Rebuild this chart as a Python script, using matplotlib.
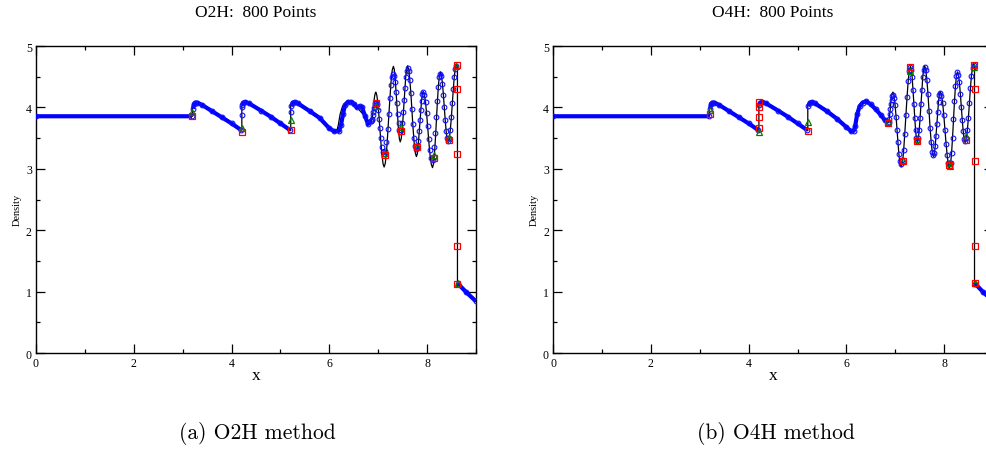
import numpy as np
import matplotlib
matplotlib.use("Agg")
import matplotlib.pyplot as plt
from matplotlib.ticker import MultipleLocator

plt.rcParams["font.family"] = "Liberation Serif"

nan = np.nan

# reference solution (black line), smooth part before the oscillations
ref_x_left = [0.0, 3.20, 3.20, 3.23, 3.26, 3.30, 3.40, 3.60, 3.80, 4.00, 4.21, 4.21, 4.24, 4.28, 4.35,
              4.60, 4.80, 5.00, 5.21, 5.21, 5.25, 5.29, 5.35, 5.60, 5.80, 6.00, 6.10, 6.15, 6.18, 6.22,
              6.27, 6.33, 6.40, 6.50, 6.60, 6.70, 6.78]
ref_rho_left = [3.857, 3.857, 4.02, 4.06, 4.08, 4.08, 4.04, 3.94, 3.84, 3.74, 3.63, 4.07, 4.08, 4.09, 4.07,
                3.95, 3.85, 3.74, 3.62, 4.06, 4.08, 4.09, 4.07, 3.94, 3.82, 3.68, 3.61, 3.62, 3.70, 3.89,
                4.02, 4.08, 4.10, 4.05, 3.97, 3.88, 3.80]
ref_x_right = [8.62, 8.62, 8.80, 9.00]
ref_rho_right = [4.70, 1.13, 0.99, 0.84]

# oscillatory region, shared x positions
x_osc = [6.850, 6.862, 6.875, 6.888, 6.900, 6.912, 6.925, 6.938, 6.950,
         6.971, 6.992, 7.014, 7.035, 7.056, 7.077, 7.099, 7.120,
         7.144, 7.168, 7.191, 7.215, 7.239, 7.263, 7.286, 7.310,
         7.328, 7.345, 7.362, 7.380, 7.398, 7.415, 7.432, 7.450,
         7.469, 7.488, 7.506, 7.525, 7.544, 7.562, 7.581, 7.600,
         7.622, 7.645, 7.668, 7.690, 7.712, 7.735, 7.758, 7.780,
         7.798, 7.815, 7.832, 7.850, 7.868, 7.885, 7.902, 7.920,
         7.944, 7.968, 7.991, 8.015, 8.039, 8.063, 8.086, 8.110,
         8.130, 8.150, 8.170, 8.190, 8.210, 8.230, 8.250, 8.270,
         8.290, 8.310, 8.330, 8.350, 8.370, 8.390, 8.410, 8.430,
         8.451, 8.472, 8.494, 8.515, 8.536, 8.557, 8.579, 8.600]
ref_osc = [3.75, 3.77, 3.82, 3.90, 4.00, 4.10, 4.18, 4.23, 4.25,
           4.20, 4.07, 3.87, 3.64, 3.41, 3.21, 3.08, 3.03,
           3.09, 3.27, 3.54, 3.85, 4.16, 4.43, 4.61, 4.67,
           4.62, 4.49, 4.29, 4.06, 3.82, 3.62, 3.49, 3.44,
           3.49, 3.62, 3.82, 4.06, 4.30, 4.50, 4.63, 4.68,
           4.62, 4.46, 4.22, 3.94, 3.66, 3.42, 3.26, 3.20,
           3.24, 3.36, 3.53, 3.73, 3.93, 4.11, 4.22, 4.26,
           4.21, 4.08, 3.88, 3.64, 3.40, 3.20, 3.07, 3.02,
           3.08, 3.25, 3.50, 3.80, 4.10, 4.35, 4.52, 4.58,
           4.54, 4.41, 4.23, 4.01, 3.79, 3.60, 3.47, 3.43,
           3.48, 3.62, 3.82, 4.07, 4.31, 4.52, 4.65, 4.70]
o2h_osc = [3.78, 3.79, 3.82, 3.87, 3.93, 3.99, 4.04, 4.07, 4.08,
           4.05, 3.96, 3.82, 3.66, 3.50, 3.36, 3.27, 3.24,
           3.29, 3.43, 3.65, 3.90, 4.15, 4.36, 4.50, 4.55,
           4.51, 4.41, 4.26, 4.08, 3.89, 3.74, 3.64, 3.60,
           3.64, 3.75, 3.92, 4.12, 4.32, 4.49, 4.60, 4.64,
           4.59, 4.45, 4.23, 3.98, 3.73, 3.51, 3.37, 3.32,
           3.36, 3.46, 3.61, 3.79, 3.96, 4.11, 4.22, 4.25,
           4.21, 4.09, 3.91, 3.70, 3.48, 3.30, 3.18, 3.14,
           3.19, 3.35, 3.58, 3.85, 4.11, 4.34, 4.50, 4.55,
           4.51, 4.39, 4.21, 4.01, 3.80, 3.62, 3.50, 3.46,
           3.51, 3.64, 3.84, 4.07, 4.30, 4.50, 4.63, 4.68]
o4h_osc = [3.75, 3.77, 3.82, 3.89, 3.98, 4.06, 4.13, 4.18, 4.20,
           4.16, 4.04, 3.85, 3.64, 3.43, 3.24, 3.12, 3.08,
           3.14, 3.31, 3.57, 3.87, 4.17, 4.43, 4.60, 4.66,
           4.61, 4.49, 4.29, 4.06, 3.83, 3.64, 3.51, 3.46,
           3.51, 3.64, 3.83, 4.06, 4.29, 4.49, 4.61, 4.66,
           4.61, 4.45, 4.22, 3.94, 3.67, 3.43, 3.28, 3.22,
           3.26, 3.37, 3.54, 3.73, 3.93, 4.09, 4.20, 4.24,
           4.19, 4.07, 3.87, 3.64, 3.41, 3.22, 3.09, 3.04,
           3.10, 3.26, 3.51, 3.81, 4.10, 4.35, 4.51, 4.57,
           4.53, 4.41, 4.22, 4.01, 3.80, 3.61, 3.49, 3.45,
           3.50, 3.63, 3.83, 4.07, 4.31, 4.51, 4.64, 4.69]

# numerical solution, smooth parts (dense points drawn as a band)
band_x_a = [0.0, 3.19, nan, 3.21, 3.23, 3.26, 3.30, 3.40, 3.60, 3.80, 4.00, 4.20, nan,
            4.22, 4.24, 4.28, 4.35, 4.60, 4.80, 5.00, 5.20, nan,
            5.22, 5.25, 5.29, 5.35, 5.60, 5.80, 6.00, 6.10, 6.20, 6.24, 6.28, 6.32, 6.38,
            6.45, 6.50, 6.56, 6.62, 6.67, 6.73, 6.79, 6.85, nan, 8.63, 8.80, 9.00]
band_a = [3.857, 3.857, nan, 3.98, 4.05, 4.08, 4.08, 4.04, 3.94, 3.84, 3.74, 3.63, nan,
          4.04, 4.08, 4.09, 4.07, 3.95, 3.85, 3.74, 3.63, nan,
          4.02, 4.08, 4.09, 4.07, 3.94, 3.83, 3.66, 3.61, 3.62, 3.72, 3.90, 4.04, 4.09,
          4.09, 4.06, 4.00, 4.02, 4.00, 3.86, 3.73, 3.78, nan, 1.13, 0.99, 0.84]
band_x_b = [0.0, 3.19, nan, 3.21, 3.23, 3.26, 3.30, 3.40, 3.60, 3.80, 4.00, 4.20, nan,
            4.22, 4.24, 4.28, 4.35, 4.60, 4.80, 5.00, 5.20, nan,
            5.22, 5.25, 5.29, 5.35, 5.60, 5.80, 6.00, 6.10, 6.15, 6.18, 6.22, 6.27, 6.33,
            6.40, 6.50, 6.60, 6.70, 6.78, 6.85, nan, 8.63, 8.80, 9.00]
band_b = [3.857, 3.857, nan, 3.98, 4.05, 4.08, 4.08, 4.04, 3.94, 3.84, 3.74, 3.63, nan,
          4.04, 4.08, 4.09, 4.07, 3.95, 3.85, 3.74, 3.63, nan,
          4.02, 4.08, 4.09, 4.07, 3.94, 3.82, 3.68, 3.61, 3.62, 3.70, 3.89, 4.02, 4.08,
          4.10, 4.05, 3.97, 3.88, 3.80, 3.75, nan, 1.13, 0.99, 0.84]

# isolated cells inside the jumps
jump_x_a = [4.21, 4.21, 5.21]
jump_a = [4.00, 3.88, 3.92]

# troubled cells (green triangles, red squares)
green_x_a = [3.20, 4.21, 5.21, 6.96, 7.14, 7.47, 7.80, 8.13, 8.45, 8.60, 8.63]
green_a = [3.92, 3.66, 3.80, 4.03, 3.26, 3.68, 3.38, 3.22, 3.51, 4.67, 1.14]
red_x_a = [3.20, 4.21, 5.21, 6.96, 7.14, 7.47, 7.80, 8.13, 8.45, 8.61, 8.62, 8.62, 8.62, 8.62]
red_a = [3.86, 3.60, 3.63, 4.08, 3.23, 3.62, 3.35, 3.18, 3.47, 4.70, 4.30, 3.25, 1.75, 1.13]
green_x_b = [3.21, 4.21, 5.21, 6.86, 7.15, 7.31, 7.45, 8.09, 8.12, 8.44, 8.60, 8.63]
green_b = [3.96, 3.60, 3.76, 3.77, 3.15, 4.60, 3.48, 3.10, 3.04, 3.53, 4.66, 1.14]
red_x_b = [3.21, 4.21, 4.21, 4.21, 4.21, 5.21, 6.86, 7.15, 7.30, 7.45, 8.10, 8.44, 8.61,
           8.63, 8.63, 8.63, 8.63]
red_b = [3.89, 4.09, 4.00, 3.84, 3.66, 3.62, 3.75, 3.12, 4.66, 3.46, 3.06, 3.47, 4.70,
         4.30, 3.13, 1.74, 1.14]

ref_x = ref_x_left + x_osc + ref_x_right
ref_rho = ref_rho_left + ref_osc + ref_rho_right

fig = plt.figure(figsize=(9.86, 4.52), dpi=100)
ax_a = fig.add_axes([0.0365, 0.2168, 0.4463, 0.679])
ax_b = fig.add_axes([0.5609, 0.2168, 0.4463, 0.679])


def draw(ax, bx, by, osc, jx, jy, gx, gy, rx, ry):
    circ = dict(ls="none", marker="o", ms=3.4, mfc="none", mec="#1010ff", mew=0.8, zorder=3)
    ax.plot(ref_x, ref_rho, color="black", lw=0.9, zorder=2)
    ax.plot(bx, by, color="#0000ff", lw=3.0, solid_capstyle="butt", zorder=3)
    ax.plot(bx, by, **circ)
    ax.plot(x_osc, osc, **circ)
    ax.plot(jx, jy, **circ)
    ax.plot(gx, gy, ls="none", marker="^", ms=4.5, mfc="none", mec="green", mew=0.9, zorder=4)
    ax.plot(rx, ry, ls="none", marker="s", ms=4.5, mfc="none", mec="red", mew=0.9, zorder=4)

    ax.set_xlim(0, 9)
    ax.set_ylim(0, 5)
    ax.xaxis.set_major_locator(MultipleLocator(2))
    ax.xaxis.set_minor_locator(MultipleLocator(1))
    ax.yaxis.set_major_locator(MultipleLocator(1))
    ax.yaxis.set_minor_locator(MultipleLocator(0.5))
    ax.tick_params(which="both", direction="in", top=True, right=True, width=0.9, labelsize=8.5, pad=3)
    ax.tick_params(which="major", length=6.5)
    ax.tick_params(which="minor", length=3.2)
    for s in ax.spines.values():
        s.set_linewidth(1.0)
    ax.set_xlabel("x", fontsize=12.5)
    ax.xaxis.set_label_coords(0.5, -0.045)
    ax.set_ylabel("Density", fontsize=7.5)
    ax.yaxis.set_label_coords(-0.032, 0.47)


draw(ax_a, band_x_a, band_a, o2h_osc, jump_x_a, jump_a, green_x_a, green_a, red_x_a, red_a)
draw(ax_b, band_x_b, band_b, o4h_osc, [], [], green_x_b, green_b, red_x_b, red_b)

fig.text(0.2597, 0.971, "O2H:  800 Points", ha="center", va="center", fontsize=12.5)
fig.text(0.784, 0.971, "O4H:  800 Points", ha="center", va="center", fontsize=12.5)
fig.text(0.2607, 0.042, "(a) O2H method", ha="center", va="center", fontsize=15.5, family="cmr10")
fig.text(0.787, 0.042, "(b) O4H method", ha="center", va="center", fontsize=15.5, family="cmr10")

fig.savefig("out.png", dpi=100)
